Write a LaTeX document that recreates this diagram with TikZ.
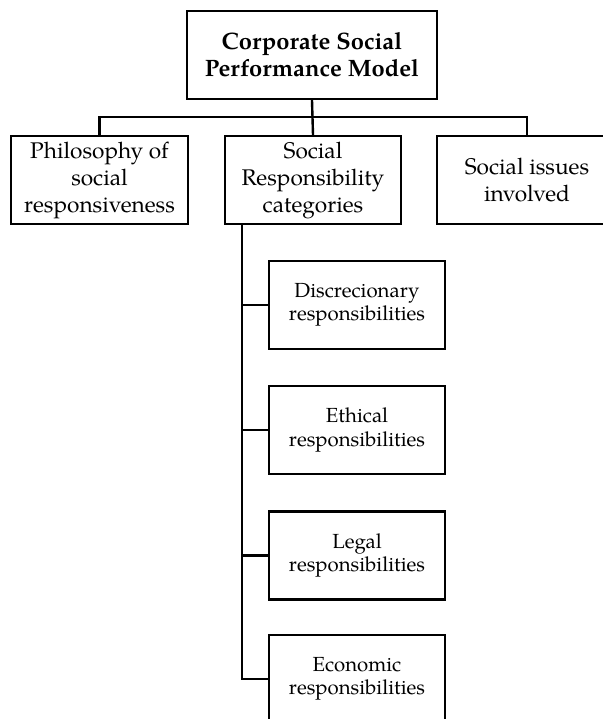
\documentclass[tikz,border=0pt]{standalone}
\usepackage{fontspec}
\setmainfont{TeX Gyre Pagella}
\begin{document}
\begin{tikzpicture}[x=0.75pt,y=-0.75pt,
  box/.style={draw, line width=1.8pt, rectangle, minimum height=66pt,
              inner sep=0pt, align=center},
  bigtext/.style={font=\fontsize{17}{20.25}\selectfont},
  roottext/.style={font=\fontsize{17.8}{20.25}\selectfont\bfseries},
  smalltext/.style={font=\fontsize{15.3}{17.4}\selectfont},
  link/.style={line width=1.8pt}]
\useasboundingbox (0,0) rectangle (603,719);
\clip (0,0) rectangle (603,719);

% root
\node[box, roottext, minimum width=187.5pt] (root) at (312,55)
  {Corporate Social\\Performance Model};

% first level
\node[box, bigtext, minimum width=132.75pt] (phil) at (99.5,180)
  {Philosophy of\\social\\responsiveness};
\node[box, bigtext, minimum width=132pt] (resp) at (313,180)
  {Social\\Responsibility\\categories};
\node[box, bigtext, minimum width=135pt] (issues) at (527,180)
  {Social issues\\involved};

% responsibility categories
\node[box, smalltext, minimum width=132pt] (disc) at (357,304.7)
  {Discrecionary\\responsibilities};
\node[box, smalltext, minimum width=132pt] (eth) at (357,430)
  {Ethical\\responsibilities};
\node[box, smalltext, minimum width=132pt] (legal) at (357,555.5)
  {Legal\\responsibilities};
\node[box, smalltext, minimum width=132pt] (econ) at (357,679)
  {Economic\\responsibilities};

% root to first level
\coordinate (bus) at (312,117);
\draw[link] (root.south) -- (resp.north);
\draw[link] (phil.north) |- (bus) -| (issues.north);

% spine down the categories
\coordinate (spine) at (242,224);
\draw[link] (spine) |- (econ.west);
\draw[link] (disc.west) -- (disc.west -| spine);
\draw[link] (eth.west) -- (eth.west -| spine);
\draw[link] (legal.west) -- (legal.west -| spine);
\end{tikzpicture}
\end{document}
